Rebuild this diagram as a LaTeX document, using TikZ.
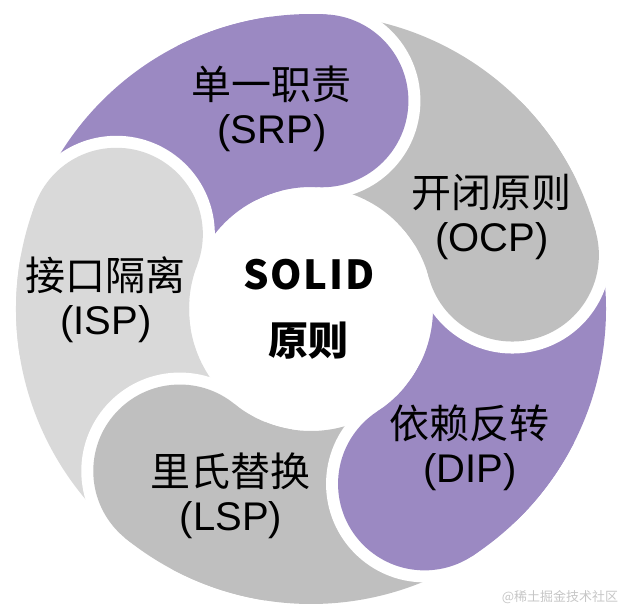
\documentclass[tikz,border=0pt]{standalone}
\usepackage{fontspec}
\setmainfont{Liberation Sans}
\newfontfamily\cjk{Noto Sans CJK SC}
\usepackage{tikz}

\definecolor{srpcol}{HTML}{9B89C2}
\definecolor{ocpcol}{HTML}{BFBFBF}
\definecolor{ispcol}{HTML}{D9D9D9}

\newcommand{\lbl}[2]{{\cjk #1}\\#2}

\tikzset{
  lbl/.style={align=center, inner sep=0pt, font=\fontsize{40}{44}\selectfont},
  mid/.style={align=center, inner sep=0pt, font=\cjk\bfseries\fontsize{40}{66}\selectfont}
}

\begin{document}
\begin{tikzpicture}[x=1pt,y=1pt]
						\useasboundingbox (-311,-305) rectangle (311,309);
						% ring pieces
						\foreach \h/\col in {87/srpcol,15/ocpcol,-57/srpcol,-129/ocpcol,-201/ispcol}
							\fill[\col] (\h:122) arc[start angle=\h, delta angle=72, radius=122] -- (\h+72:295) arc[start angle=\h+72, delta angle=-72, radius=295] -- cycle;
						% round heads with a white gap
						\foreach \h/\col in {87/srpcol,15/ocpcol,-57/srpcol,-129/ocpcol,-201/ispcol}{
							\fill[white] (\h:208.5) circle[radius=98.5];
							\fill[\col] (\h:208.5) circle[radius=86.5];
							\fill[\col] (\h:122) arc[start angle=\h, delta angle=30, radius=122] -- (\h+30:295) arc[start angle=\h+30, delta angle=-30, radius=295] -- cycle;
						}
						\node[lbl] (srp) at (-39,200) {\lbl{单一职责}{(SRP)}};
						\node[lbl] (ocp) at (181,92) {\lbl{开闭原则}{(OCP)}};
						\node[lbl] (dip) at (159,-139) {\lbl{依赖反转}{(DIP)}};
						\node[lbl] (lsp) at (-80,-187) {\lbl{里氏替换}{(LSP)}};
						\node[lbl] (isp) at (-205,9) {\lbl{接口隔离}{(ISP)}};
						\node[mid] (solid) at (-2,0) {{\addfontfeature{LetterSpace=4}SOLID}\\原则};
						\node[text=gray!45, font=\cjk\fontsize{13}{13}\selectfont] (mark) at (249,-288) {@稀土掘金技术社区};
					\end{tikzpicture}
\end{document}
